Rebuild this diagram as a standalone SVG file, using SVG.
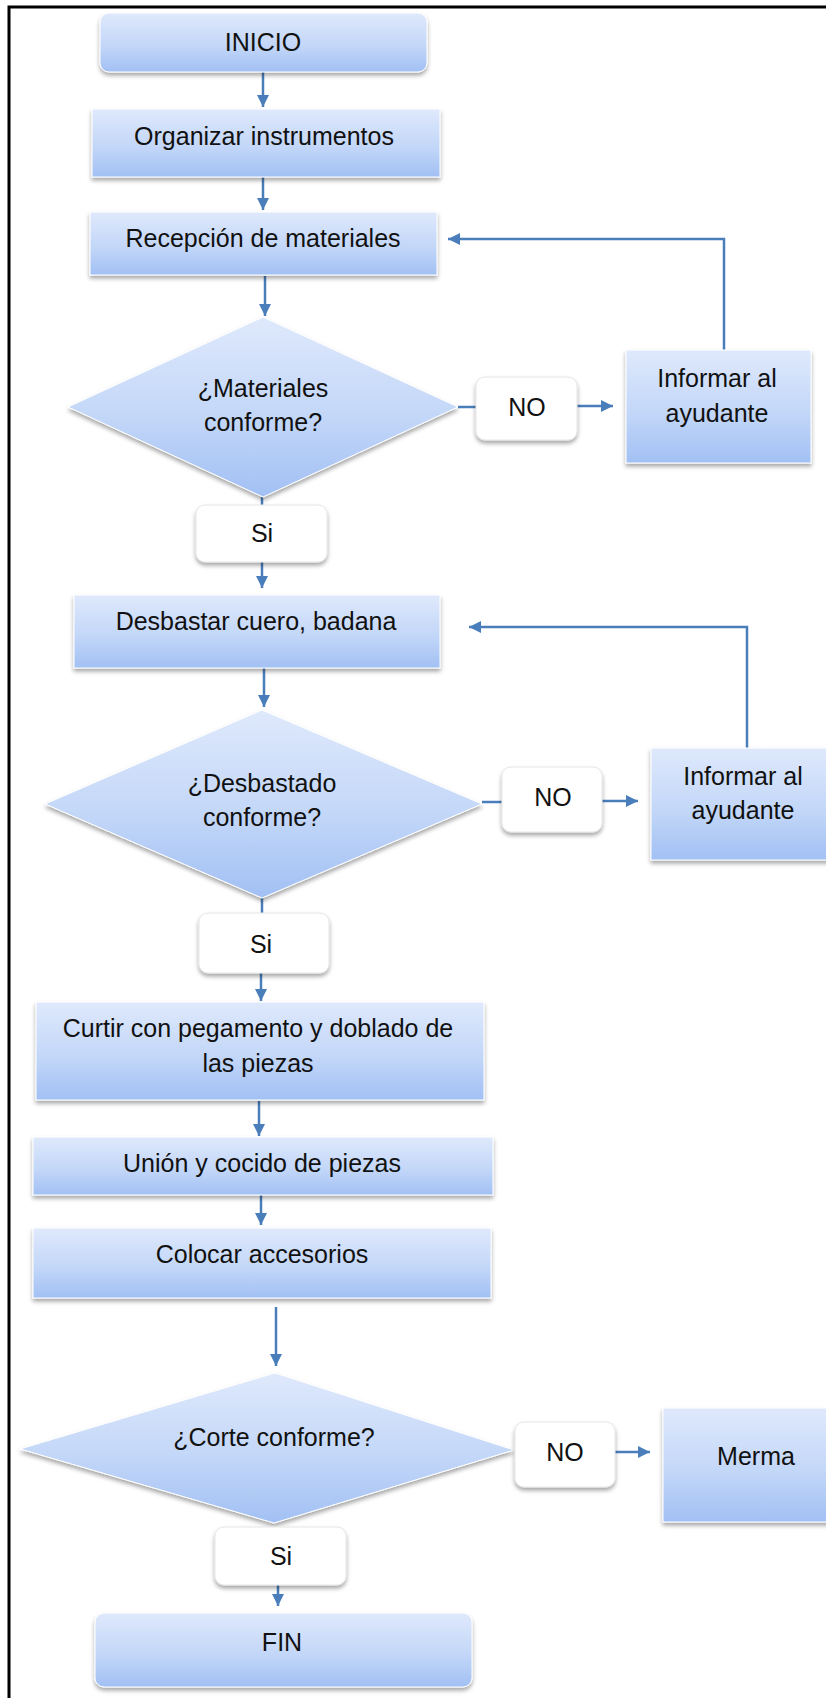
<svg xmlns="http://www.w3.org/2000/svg" width="826" height="1698" viewBox="0 0 826 1698">
<style>
.box{fill:url(#g);stroke:#ffffff;stroke-width:1;filter:url(#sh)}
.lbl{fill:#ffffff;stroke:#e6e6e6;stroke-width:1;filter:url(#sh)}
.t{font-family:"Liberation Sans",Arial,sans-serif;font-size:25px;fill:#111111;text-anchor:middle}
.c{fill:none;stroke:#4a7ebb;stroke-width:2.5}
.a{marker-end:url(#ah)}
</style>
<defs>
<linearGradient id="g" x1="0" y1="0" x2="0" y2="1">
<stop offset="0" stop-color="#dfe9fc"/>
<stop offset="0.55" stop-color="#c3d7f8"/>
<stop offset="1" stop-color="#a2c0f4"/>
</linearGradient>
<filter id="sh" x="-10%" y="-10%" width="120%" height="130%">
<feDropShadow dx="0" dy="3" stdDeviation="2" flood-color="#000" flood-opacity="0.35"/>
</filter>
<marker id="ah" markerUnits="userSpaceOnUse" markerWidth="12" markerHeight="12" viewBox="0 0 10 10" refX="10" refY="5" orient="auto">
<path d="M0,0 L10,5 L0,10 z" fill="#4a7ebb"/>
</marker>
</defs>
<rect width="826" height="1698" fill="#ffffff"/>
<path d="M9,1698 V7 H826" fill="none" stroke="#000" stroke-width="3"/>

<g id="connectors">
<path class="c a" d="M263,72 V107"/>
<path class="c a" d="M263,177 V210"/>
<path class="c a" d="M265,276 V316"/>
<path class="c" d="M458,407 H476"/>
<path class="c a" d="M577,406 H613"/>
<path class="c a" d="M724,350 V239 H448"/>
<path class="c" d="M262,497 V505"/>
<path class="c a" d="M262,562 V588"/>
<path class="c a" d="M264,668 V707"/>
<path class="c" d="M482,802 H502"/>
<path class="c a" d="M602,801 H638"/>
<path class="c a" d="M747,748 V627 H469"/>
<path class="c" d="M262,898 V913"/>
<path class="c a" d="M261,973 V1001"/>
<path class="c a" d="M259,1101 V1136"/>
<path class="c a" d="M261,1195 V1225"/>
<path class="c a" d="M276,1307 V1366"/>
<path class="c a" d="M615,1452 H650"/>
<path class="c a" d="M278,1585 V1606"/>
</g>

<g id="inicio">
<rect class="box" x="100" y="13" width="327" height="59" rx="9"/>
<text class="t" x="263" y="51">INICIO</text>
</g>
<g id="organizar">
<rect class="box" x="92" y="109" width="348" height="68"/>
<text class="t" x="264" y="145">Organizar instrumentos</text>
</g>
<g id="recepcion">
<rect class="box" x="90" y="212" width="347" height="63"/>
<text class="t" x="263" y="247">Recepción de materiales</text>
</g>
<g id="dec1">
<polygon class="box" points="263,317 458,407 263,497 68,407"/>
<text class="t" x="263" y="397">¿Materiales</text>
<text class="t" x="263" y="431">conforme?</text>
</g>
<g id="no1">
<rect class="lbl" x="476" y="377" width="101" height="63" rx="9"/>
<text class="t" x="527" y="416">NO</text>
</g>
<g id="informar1">
<rect class="box" x="626" y="350" width="185" height="113"/>
<text class="t" x="717" y="387">Informar al</text>
<text class="t" x="717" y="422">ayudante</text>
</g>
<g id="si1">
<rect class="lbl" x="196" y="505" width="131" height="57" rx="9"/>
<text class="t" x="262" y="542">Si</text>
</g>
<g id="desbastar">
<rect class="box" x="74" y="595" width="366" height="73"/>
<text class="t" x="256" y="630">Desbastar cuero, badana</text>
</g>
<g id="dec2">
<polygon class="box" points="262,710 482,804 262,898 45,804"/>
<text class="t" x="262" y="792">¿Desbastado</text>
<text class="t" x="262" y="826">conforme?</text>
</g>
<g id="no2">
<rect class="lbl" x="502" y="767" width="100" height="65" rx="9"/>
<text class="t" x="553" y="806">NO</text>
</g>
<g id="informar2">
<rect class="box" x="651" y="748" width="185" height="112"/>
<text class="t" x="743" y="785">Informar al</text>
<text class="t" x="743" y="819">ayudante</text>
</g>
<g id="si2">
<rect class="lbl" x="199" y="913" width="130" height="60" rx="9"/>
<text class="t" x="261" y="953">Si</text>
</g>
<g id="curtir">
<rect class="box" x="36" y="1002" width="448" height="98"/>
<text class="t" x="258" y="1037">Curtir con pegamento y doblado de</text>
<text class="t" x="258" y="1072">las piezas</text>
</g>
<g id="union">
<rect class="box" x="33" y="1137" width="460" height="58"/>
<text class="t" x="262" y="1172">Unión y cocido de piezas</text>
</g>
<g id="colocar">
<rect class="box" x="33" y="1228" width="458" height="70"/>
<text class="t" x="262" y="1263">Colocar accesorios</text>
</g>
<g id="dec3">
<polygon class="box" points="275,1373 514,1450 274,1523 20,1449"/>
<text class="t" x="274" y="1446">¿Corte conforme?</text>
</g>
<g id="no3">
<rect class="lbl" x="515" y="1422" width="100" height="65" rx="9"/>
<text class="t" x="565" y="1461">NO</text>
</g>
<g id="merma">
<rect class="box" x="663" y="1408" width="175" height="114"/>
<text class="t" x="756" y="1465">Merma</text>
</g>
<g id="si3">
<rect class="lbl" x="215" y="1527" width="131" height="58" rx="9"/>
<text class="t" x="281" y="1565">Si</text>
</g>
<g id="fin">
<rect class="box" x="95" y="1613" width="377" height="74" rx="9"/>
<text class="t" x="282" y="1651">FIN</text>
</g>
</svg>
